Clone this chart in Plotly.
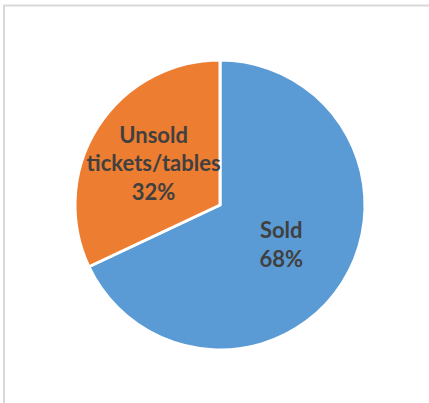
import plotly.graph_objects as go

labels = ["Sold", "Unsold<br>tickets/tables"]
values = [68, 32]
colors = ["#5B9BD5", "#ED7D31"]

W, H = 429, 403
cx, cy, r = 220, 205, 145

fig = go.Figure(go.Pie(
    labels=labels,
    values=values,
    sort=False,
    direction="clockwise",
    rotation=0,
    marker=dict(colors=colors, line=dict(color="white", width=3)),
    textinfo="label+percent",
    texttemplate="<b>%{label}<br>%{percent:.0%}</b>",
    textposition="inside",
    insidetextorientation="horizontal",
    insidetextfont=dict(family="Lato", size=22, color="#404040"),
    hoverinfo="skip",
    showlegend=False,
    domain=dict(x=[(cx - r) / W, (cx + r) / W],
                y=[(H - cy - r) / H, (H - cy + r) / H]),
))

fig.update_layout(
    width=W, height=H,
    margin=dict(l=0, r=0, t=0, b=0),
    paper_bgcolor="white",
    plot_bgcolor="white",
    uniformtext=dict(minsize=22, mode="show"),
    shapes=[
        dict(type="line", xref="paper", yref="paper",
             x0=3 / W, x1=1, y0=1 - 5.5 / H, y1=1 - 5.5 / H,
             line=dict(color="#D9D9D9", width=2)),
        dict(type="line", xref="paper", yref="paper",
             x0=4 / W, x1=4 / W, y0=0, y1=1 - 5 / H,
             line=dict(color="#D9D9D9", width=2)),
    ],
)

fig.write_html("out.html")
